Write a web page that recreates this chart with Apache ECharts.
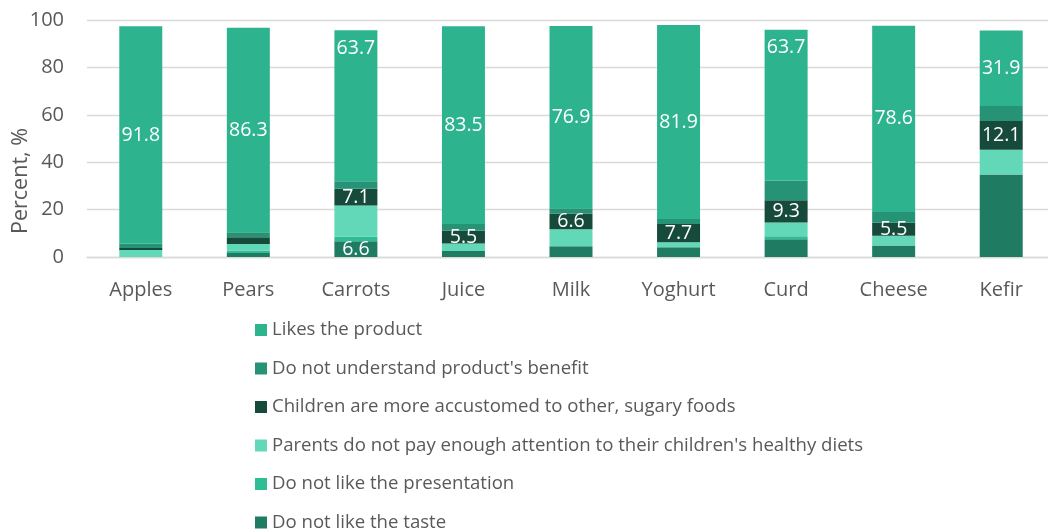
<!DOCTYPE html>
<html><head><meta charset="utf-8">
<script src="https://cdn.jsdelivr.net/npm/echarts@6/dist/echarts.min.js"></script>
<style>html,body{margin:0;padding:0;background:#fff;overflow:hidden}#c{width:1062px;height:530px}</style>
</head><body><div id="c"></div>
<script>
const categories = ['Apples','Pears','Carrots','Juice','Milk','Yoghurt','Curd','Cheese','Kefir'];
const taste        = [0, 1.7, 6.6, 2.5, 4.5, 4.1, 7.5, 4.9, 34.8];
const presentation = [0, 1.0, 2.1, 0, 0, 0, 1.3, 0, 0];
const parents      = [3.0, 2.8, 13.0, 3.2, 7.2, 2.1, 5.8, 4.1, 10.5];
const children     = [0.8, 2.8, 7.1, 5.5, 6.6, 7.7, 9.3, 5.5, 12.1];
const dontUnderstand = [1.8, 2.1, 3.2, 2.7, 2.3, 2.1, 8.3, 4.5, 6.3];
const likes        = [91.8, 86.3, 63.7, 83.5, 76.9, 81.9, 63.7, 78.6, 31.9];
const yTicks = [0, 20, 40, 60, 80, 100];

const names = {
  likes: 'Likes the product',
  dont: "Do not understand product's benefit",
  children: 'Children are more accustomed to other, sugary foods',
  parents: "Parents do not pay enough attention to their children's healthy diets",
  presentation: 'Do not like the presentation',
  taste: 'Do not like the taste'
};
const FONT = '"Open Sans", sans-serif';
const labelBase = {color: '#fff', fontSize: 19.5, fontFamily: FONT, position: 'inside'};

function mk(name, arr, color, shownIdx, topIdx) {
  return {
    name, type: 'bar', stack: 'a', barWidth: 43,
    itemStyle: {color},
    emphasis: {disabled: true},
    data: arr.map((v, i) => {
      const show = shownIdx ? shownIdx.includes(i) : false;
      const o = {value: v, label: Object.assign({}, labelBase, {show})};
      if (topIdx && topIdx.includes(i)) { o.label.position = 'insideTop'; o.label.distance = 8; }
      return o;
    })
  };
}

const chart = echarts.init(document.getElementById('c'));
chart.setOption({
  animation: false,
  grid: {left: 87, top: 20, width: 968, height: 237},
  xAxis: {
    type: 'category', data: categories,
    axisLine: {lineStyle: {color: '#d9d9d9', width: 1.3}},
    axisTick: {show: false},
    axisLabel: {color: '#595959', fontSize: 20, fontFamily: FONT, margin: 23}
  },
  yAxis: {
    type: 'value', min: yTicks[0], max: yTicks[yTicks.length - 1], interval: 20,
    axisLine: {show: false}, axisTick: {show: false},
    splitLine: {lineStyle: {color: '#d9d9d9', width: 1.3}},
    axisLabel: {color: '#595959', fontSize: 20, fontFamily: FONT, margin: 23}
  },
  graphic: [{
    type: 'text', x: 21, y: 181, rotation: Math.PI / 2,
    style: {text: 'Percent, %', fill: '#595959', font: '21.5px ' + FONT, align: 'center', verticalAlign: 'middle'}
  }],
  legend: {
    orient: 'vertical', left: 250, top: 314, height: 260,
    itemWidth: 12, itemHeight: 12, itemGap: 16.5,
    icon: 'rect',
    textStyle: {color: '#595959', fontSize: 18.6, fontFamily: FONT, lineHeight: 22},
    data: [names.likes, names.dont, names.children, names.parents, names.presentation, names.taste]
  },
  series: [
    mk(names.taste, taste, '#1f7b62', [2]),
    mk(names.presentation, presentation, '#2ebd95'),
    mk(names.parents, parents, '#63d8b8'),
    mk(names.children, children, '#164a3a', [2,3,4,5,6,7,8]),
    mk(names.dont, dontUnderstand, '#269377'),
    mk(names.likes, likes, '#2db48e', [0,1,2,3,4,5,6,7,8], [2,6])
  ]
});
</script></body></html>
